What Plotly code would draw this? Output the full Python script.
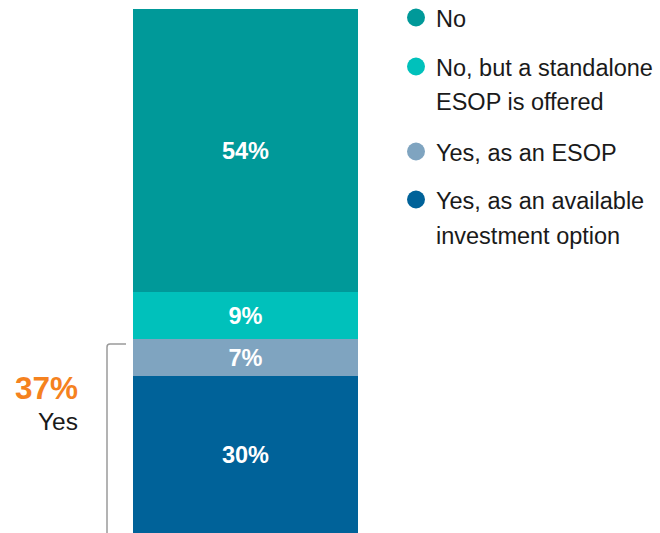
import plotly.graph_objects as go

# Share of plans offering company stock, stacked bottom to top
categories = ["Yes, as an available investment option", "Yes, as an ESOP",
              "No, but a standalone ESOP is offered", "No"]
legend_lines = [["Yes, as an available", "investment option"], ["Yes, as an ESOP"],
                ["No, but a standalone", "ESOP is offered"], ["No"]]
values = [30, 7, 9, 54]
colors = ["#006299", "#7FA4C0", "#00C1BB", "#009999"]
yes_total = values[0] + values[1]
yes_label = "Yes"

W, H = 660, 533
ML, MR, MT, MB = 133, W - 358, 9, 0
PW, PH = W - ML - MR, H - MT - MB
FONT = "Arial, Liberation Sans, sans-serif"


def px(x):
    return (x - ML) / PW


def py(y):
    return (H - MB - y) / PH


fig = go.Figure()
for cat, val, col in zip(categories, values, colors):
    fig.add_trace(go.Bar(
        x=[0], y=[val], name=cat, marker=dict(color=col, line=dict(width=0)),
        width=1, text=[f"<b>{val}%</b>"], textposition="inside", insidetextanchor="middle",
        textfont=dict(color="white", size=23.5, family=FONT),
        showlegend=False, hoverinfo="skip",
    ))

# Legend: circle markers with wrapped labels
legend_tops = [19, 68, 153, 201]  # first-line centres, top to bottom
line_gap = 34.5
for lines, col, top in zip(legend_lines[::-1], colors[::-1], legend_tops):
    r = 9
    cy = top - 1.5
    fig.add_shape(type="circle", xref="paper", yref="paper",
                  x0=px(416 - r), x1=px(416 + r), y0=py(cy + r), y1=py(cy - r),
                  fillcolor=col, line=dict(width=0))
    for i, ln in enumerate(lines):
        fig.add_annotation(text=ln, xref="paper", yref="paper", x=px(434),
                           y=py(top + i * line_gap), xanchor="left", yanchor="middle",
                           showarrow=False, font=dict(size=23.5, color="#1a1a1a", family=FONT))

# Bracket spanning the "Yes" segments
bx, btop, bend = 107, 344, 126
path = (f"M {px(bend)},{py(btop)} L {px(bx + 3)},{py(btop)} "
        f"Q {px(bx)},{py(btop)} {px(bx)},{py(btop + 3)} L {px(bx)},{py(H)}")
fig.add_shape(type="path", xref="paper", yref="paper", path=path,
              line=dict(color="#9a9a9a", width=1.5))

fig.add_annotation(text=f"<b>{yes_total}%</b>", xref="paper", yref="paper",
                   x=px(80), y=py(388), xanchor="right", yanchor="middle", showarrow=False,
                   font=dict(size=31.5, color="#F5821F", family=FONT))
fig.add_annotation(text=yes_label, xref="paper", yref="paper",
                   x=px(80), y=py(421), xanchor="right", yanchor="middle", showarrow=False,
                   font=dict(size=24.5, color="#1a1a1a", family=FONT))

fig.update_layout(
    barmode="stack", width=W, height=H,
    margin=dict(l=ML, r=MR, t=MT, b=MB, autoexpand=False),
    paper_bgcolor="white", plot_bgcolor="white",
    xaxis=dict(visible=False, range=[-0.5, 0.5], fixedrange=True),
    yaxis=dict(visible=False, range=[0, 100], fixedrange=True),
    bargap=0, uniformtext=dict(mode="show", minsize=10),
)

fig.write_html("out.html", config=dict(displayModeBar=False))
